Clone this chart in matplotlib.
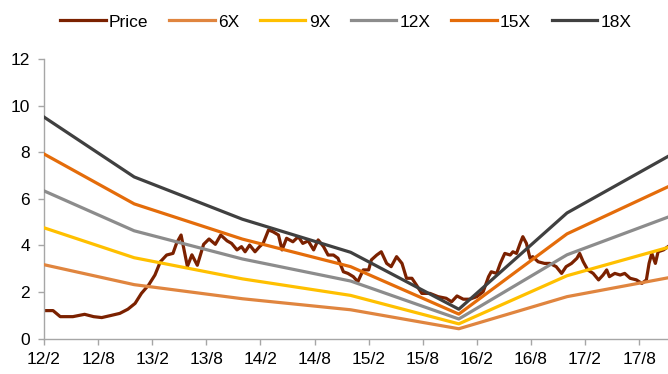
import matplotlib
matplotlib.use('Agg')
import matplotlib.pyplot as plt
import numpy as np

# x values are months counted from Feb 2012 (12/2 = 0)
price_month = [0.0, 1.0, 1.8, 3.2, 4.5, 5.5, 6.4, 7.3, 8.4, 9.3, 10.1, 10.8, 11.6, 12.3,
               12.9, 13.6, 14.3, 14.7, 15.2, 15.9, 16.4, 17.0, 17.7, 18.3, 19.0, 19.6,
               20.3, 20.8, 21.4, 21.9, 22.3, 22.8, 23.4, 23.9, 24.3, 24.9, 25.4, 26.0,
               26.4, 26.9, 27.6, 28.2, 28.7, 29.3, 29.9, 30.4, 31.0, 31.5, 32.1, 32.6,
               33.2, 33.7, 34.3, 34.8, 35.4, 36.0, 36.3, 36.9, 37.4, 38.0, 38.5, 39.1,
               39.7, 40.2, 40.8, 41.3, 41.9, 42.8, 43.7, 44.6, 45.2, 45.8, 46.5, 47.2,
               48.0, 48.7, 49.3, 49.6, 50.2, 50.6, 51.1, 51.7, 52.0, 52.4, 52.8, 53.1,
               53.5, 53.9, 54.2, 54.8, 55.5, 56.1, 56.8, 57.4, 57.9, 58.5, 59.1, 59.4,
               59.8, 60.3, 60.9, 61.5, 62.0, 62.4, 62.7, 63.3, 63.9, 64.4, 65.0, 65.7,
               66.3, 66.8, 67.1, 67.4, 67.8, 68.1, 68.7, 69.2]
price = [1.2, 1.2, 0.94, 0.94, 1.04, 0.94, 0.9, 0.98, 1.08, 1.26, 1.51, 1.94, 2.3, 2.73,
         3.3, 3.59, 3.66, 4.1, 4.45, 3.1, 3.6, 3.15, 4.05, 4.28, 4.05, 4.45,
         4.2, 4.09, 3.81, 3.95, 3.73, 4.02, 3.73, 3.95, 4.09, 4.67, 4.59, 4.45,
         3.81, 4.31, 4.16, 4.38, 4.09, 4.2, 3.81, 4.24, 3.95, 3.59, 3.59, 3.45,
         2.87, 2.8, 2.66, 2.44, 2.95, 2.95, 3.38, 3.59, 3.73, 3.23, 3.09, 3.52,
         3.23, 2.59, 2.59, 2.3, 1.94, 1.94, 1.8, 1.73, 1.58, 1.83, 1.69, 1.69,
         1.8, 2.01, 2.66, 2.87, 2.8, 3.23, 3.66, 3.59, 3.73, 3.66, 4.09, 4.38,
         4.09, 3.45, 3.52, 3.3, 3.23, 3.23, 3.09, 2.8, 3.09, 3.23, 3.45, 3.66,
         3.3, 2.95, 2.8, 2.52, 2.73, 2.95, 2.66, 2.8, 2.73, 2.8, 2.59, 2.52,
         2.37, 2.52, 3.23, 3.66, 3.23, 3.73, 3.81, 3.95]

# forward EPS used for the PE bands
eps_month = [0, 10, 22, 34, 46, 58, 69.2]
eps = [0.529, 0.386, 0.285, 0.206, 0.07, 0.30, 0.435]

multiples = [6, 9, 12, 15, 18]
band_colors = ['#E0853F', '#FFC000', '#8C8C8C', '#E46C0A', '#404040']

tick_months = list(range(0, 67, 6))
tick_labels = ['12/2', '12/8', '13/2', '13/8', '14/2', '14/8',
               '15/2', '15/8', '16/2', '16/8', '17/2', '17/8']

plt.rcParams['font.family'] = ['Liberation Sans Narrow', 'Liberation Sans', 'DejaVu Sans']

fig = plt.figure(figsize=(6.68, 3.74), dpi=100)
ax = fig.add_axes([0.0659, 0.0949, 0.9341, 0.7461])

ax.plot(price_month, price, color='#7B2100', lw=2.3, label='Price', zorder=2)
for m, c in zip(multiples, band_colors):
    ax.plot(eps_month, np.array(eps) * m, color=c, lw=2.3, label='%dX' % m, zorder=3)

ax.set_xlim(0, 69.2)
ax.set_ylim(0, 12)
ax.set_yticks(range(0, 13, 2))
ax.set_xticks(tick_months)
ax.set_xticklabels(tick_labels)

for s in ['top', 'right']:
    ax.spines[s].set_visible(False)
for s in ['left', 'bottom']:
    ax.spines[s].set_color('#A6A6A6')
    ax.spines[s].set_linewidth(1.0)
ax.tick_params(axis='both', colors='#A6A6A6', labelcolor='black', labelsize=12.5,
               length=4, width=1.0, direction='out')
ax.tick_params(axis='x', pad=6)
ax.tick_params(axis='y', pad=6)

fig.legend(loc='center', bbox_to_anchor=(346 / 668, 1 - 22 / 374), ncol=6,
           frameon=False, fontsize=12.5, handlelength=2.6, handletextpad=0.2,
           columnspacing=1.2)

fig.savefig('out.png', dpi=100)
